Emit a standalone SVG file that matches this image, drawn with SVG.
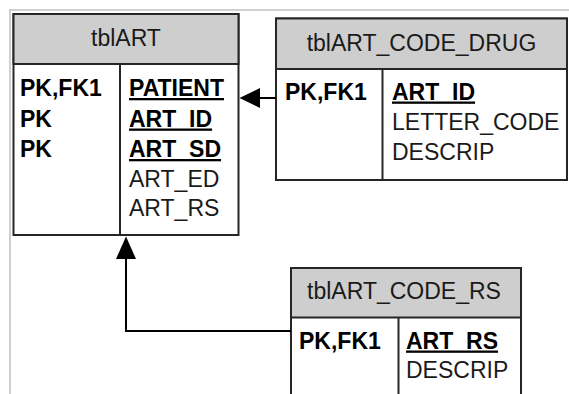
<svg xmlns="http://www.w3.org/2000/svg" width="569" height="394" viewBox="0 0 569 394">
<style>
.frame{fill:none;stroke:#d0d0d0;stroke-width:2}
.box{fill:#fff;stroke:#262626;stroke-width:2}
.hdr{fill:#cecece;stroke:#262626;stroke-width:2}
.div{stroke:#262626;stroke-width:2}
.t{font-family:"Liberation Sans",Arial,sans-serif;font-size:23px;fill:#1a1a1a}
.c{text-anchor:middle}
.b{font-weight:bold;fill:#000}
.u{text-decoration:underline}
.con{fill:none;stroke:#000;stroke-width:2}
.ah{fill:#000}
</style>
<rect width="569" height="394" fill="#fff"/>
<path class="frame" d="M10 394V10H569"/>
<g id="tblART">
<rect class="box" x="13.5" y="14" width="225" height="221"/>
<rect class="hdr" x="13.5" y="14" width="225" height="50"/>
<line class="div" x1="120" y1="64" x2="120" y2="235"/>
<text class="t c" x="126" y="45.5">tblART</text>
<text class="t b" x="20" y="96">PK,FK1</text>
<text class="t b" x="20" y="126.5">PK</text>
<text class="t b" x="20" y="157">PK</text>
<text class="t b u" x="129" y="96">PATIENT</text>
<text class="t b u" x="129" y="126.5">ART_ID</text>
<text class="t b u" x="129" y="157">ART_SD</text>
<text class="t" x="129" y="186.5">ART_ED</text>
<text class="t" x="129" y="215.5">ART_RS</text>
</g>
<g id="tblART_CODE_DRUG">
<rect class="box" x="276" y="18.5" width="291" height="161.5"/>
<rect class="hdr" x="276" y="18.5" width="291" height="50.5"/>
<line class="div" x1="382.5" y1="69" x2="382.5" y2="180"/>
<text class="t c" x="421.5" y="50.5">tblART_CODE_DRUG</text>
<text class="t b" x="285" y="99.5">PK,FK1</text>
<text class="t b u" x="392" y="99.5">ART_ID</text>
<text class="t" x="392" y="129.5">LETTER_CODE</text>
<text class="t" x="392" y="159.5">DESCRIP</text>
</g>
<g id="tblART_CODE_RS">
<rect class="box" x="291" y="268" width="230" height="140"/>
<rect class="hdr" x="291" y="268" width="230" height="49.5"/>
<line class="div" x1="398.5" y1="317.5" x2="398.5" y2="408"/>
<text class="t c" x="404" y="298.5">tblART_CODE_RS</text>
<text class="t b" x="299" y="348.5">PK,FK1</text>
<text class="t b u" x="406" y="348.5">ART_RS</text>
<text class="t" x="406" y="378">DESCRIP</text>
</g>
<g id="connectors">
<path class="con" d="M276 98H259"/>
<polygon class="ah" points="239.5,98 260,88 260,108"/>
<path class="con" d="M291 331H126V258"/>
<polygon class="ah" points="126,236.5 116,259 136,259"/>
</g>
</svg>
